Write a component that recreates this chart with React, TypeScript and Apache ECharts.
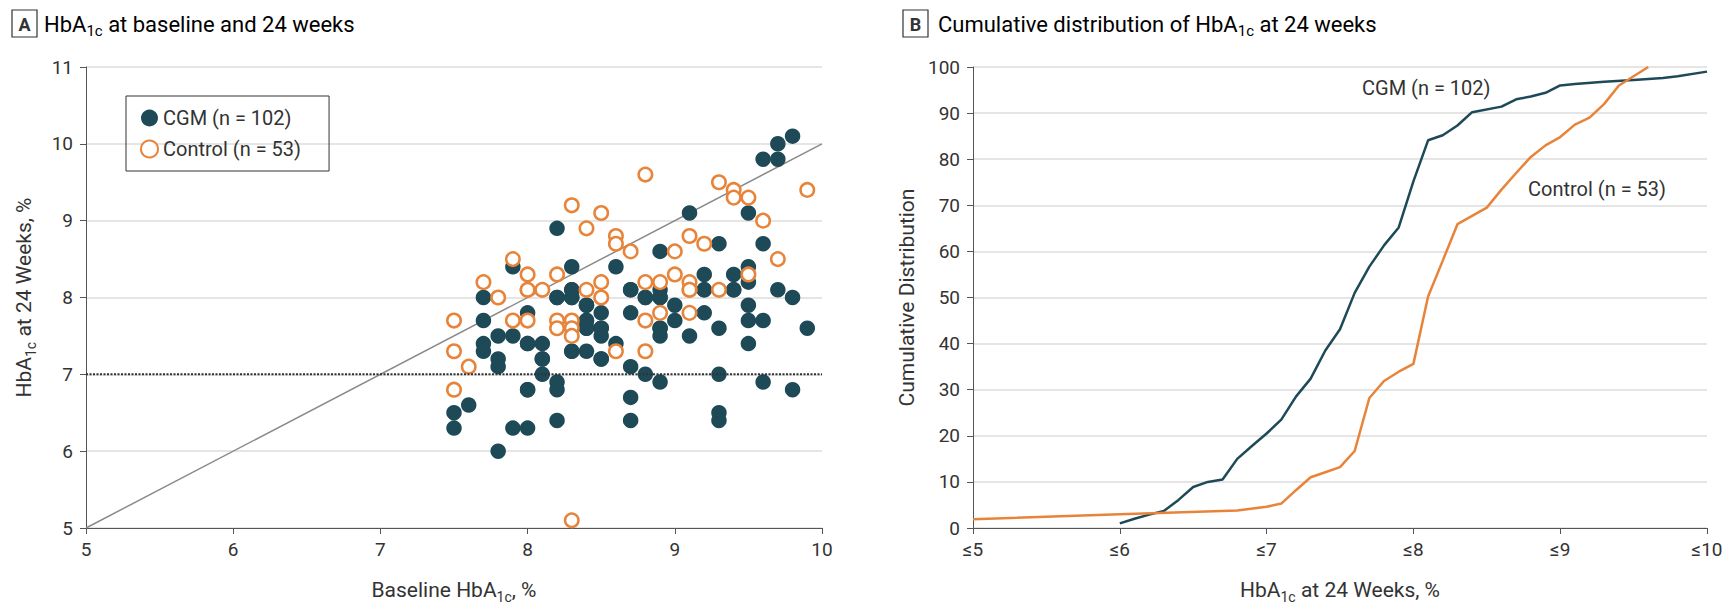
import React, { useEffect, useRef } from "react";
import * as echarts from "echarts";

const FONT = "Roboto, 'Liberation Sans', sans-serif";
const DARK = "#1e4957";
const ORANGE = "#e8843a";
const TEXT = "#333333";
const AXIS = "#555555";
const GRID = "#dddddd";

// Panel A: baseline HbA1c (x) vs HbA1c at 24 weeks (y)
const cgmPoints: [number, number][] = [
  [9.8, 10.1], [9.7, 10.0], [9.7, 9.8], [9.6, 9.8], [9.1, 9.1], [9.5, 9.1], [8.2, 8.9], [9.6, 8.7], [9.3, 8.7], [8.9, 8.6],
  [7.9, 8.4], [8.3, 8.4], [8.6, 8.4], [9.5, 8.4], [9.2, 8.3], [9.4, 8.3], [9.5, 8.2], [8.3, 8.1], [8.7, 8.1], [8.9, 8.1],
  [9.2, 8.1], [9.4, 8.1], [9.7, 8.1], [7.7, 8.0], [8.2, 8.0], [8.3, 8.0], [8.8, 8.0], [8.9, 8.0], [9.8, 8.0], [8.4, 7.9],
  [9.0, 7.9], [9.5, 7.9], [8.0, 7.8], [8.5, 7.8], [8.7, 7.8], [9.2, 7.8], [7.7, 7.7], [8.4, 7.7], [9.0, 7.7], [9.5, 7.7],
  [9.6, 7.7], [8.4, 7.6], [8.5, 7.6], [8.9, 7.6], [9.3, 7.6], [9.9, 7.6], [7.8, 7.5], [7.9, 7.5], [8.5, 7.5], [8.9, 7.5],
  [9.1, 7.5], [7.7, 7.4], [8.0, 7.4], [8.1, 7.4], [8.6, 7.4], [9.5, 7.4], [7.7, 7.3], [8.3, 7.3], [8.4, 7.3], [7.8, 7.2],
  [8.1, 7.2], [8.5, 7.2], [7.8, 7.1], [8.7, 7.1], [8.1, 7.0], [8.8, 7.0], [9.3, 7.0], [8.2, 6.9], [8.9, 6.9], [9.6, 6.9],
  [8.0, 6.8], [8.2, 6.8], [9.8, 6.8], [8.7, 6.7], [7.6, 6.6], [7.5, 6.5], [9.3, 6.5], [8.2, 6.4], [8.7, 6.4], [9.3, 6.4],
  [7.5, 6.3], [7.9, 6.3], [8.0, 6.3], [7.8, 6.0],
  [8.0, 6.8], [8.1, 7.2], [8.5, 7.2], [8.3, 7.3], [8.0, 7.4], [8.4, 7.6], [8.5, 7.6], [8.9, 7.6], [8.4, 7.7], [8.4, 7.9],
  [8.3, 8.0], [8.2, 8.0], [8.8, 8.0], [8.9, 8.0], [8.3, 8.1], [8.7, 8.1], [9.2, 8.1], [9.4, 8.1],
];

const controlPoints: [number, number][] = [
  [7.5, 7.7], [7.5, 7.3], [7.6, 7.1], [7.5, 6.8], [7.8, 8.0], [7.9, 7.7], [8.0, 7.7], [8.0, 8.1], [8.1, 8.1], [8.2, 7.7],
  [8.3, 7.7], [8.2, 7.6], [8.3, 7.6], [8.3, 7.5], [7.7, 8.2], [8.3, 9.2], [8.4, 8.9], [7.9, 8.5], [8.0, 8.3], [8.2, 8.3],
  [8.8, 9.6], [8.5, 9.1], [8.6, 8.8], [8.6, 8.7], [8.7, 8.6], [9.0, 8.6], [9.1, 8.8], [9.2, 8.7], [9.3, 9.5], [9.4, 9.4],
  [9.4, 9.3], [9.5, 9.3], [9.5, 8.3], [9.0, 8.3], [9.1, 8.2], [9.1, 8.1], [8.8, 8.2], [8.9, 8.2], [8.5, 8.2], [8.4, 8.1],
  [8.5, 8.0], [9.3, 8.1], [8.9, 7.8], [9.1, 7.8], [8.8, 7.7], [8.8, 7.3], [8.6, 7.3], [8.3, 5.1], [9.6, 9.0], [9.7, 8.5],
  [9.9, 9.4], [8.0, 8.1], [9.1, 8.1],
];

const identityLine: [number, number][] = [[5, 5], [10, 10]];
const targetLine: [number, number][] = [[5, 7], [10, 7]];

// Panel B: cumulative distribution of HbA1c at 24 weeks
const cgmCdfX = [6.0, 6.1, 6.2, 6.3, 6.4, 6.5, 6.6, 6.7, 6.8, 6.9, 7.0, 7.1, 7.2, 7.3, 7.4, 7.5, 7.6, 7.7, 7.8, 7.9, 8.0, 8.1, 8.2, 8.3, 8.4, 8.6, 8.7, 8.8, 8.9, 9.0, 9.1, 9.3, 9.5, 9.7, 9.8, 10.0];
const cgmCdfY = [1.0, 2.0, 2.9, 3.7, 6.1, 8.9, 10.0, 10.5, 15.0, 17.8, 20.5, 23.5, 28.5, 32.4, 38.5, 43.1, 51.0, 56.7, 61.3, 65.2, 75.2, 84.1, 85.2, 87.3, 90.2, 91.4, 93.0, 93.6, 94.4, 96.0, 96.3, 96.8, 97.2, 97.6, 98.0, 99.0];
const controlCdfX = [5.0, 6.0, 6.8, 7.0, 7.1, 7.2, 7.3, 7.4, 7.5, 7.6, 7.7, 7.8, 7.9, 8.0, 8.1, 8.2, 8.3, 8.4, 8.5, 8.6, 8.7, 8.8, 8.9, 9.0, 9.1, 9.2, 9.3, 9.4, 9.5, 9.6];
const controlCdfY = [1.9, 3.0, 3.8, 4.6, 5.3, 8.2, 11.0, 12.1, 13.2, 16.7, 28.2, 31.9, 33.9, 35.6, 50.2, 58.0, 65.9, 67.7, 69.5, 73.4, 77.0, 80.5, 83.0, 84.8, 87.5, 89.0, 92.0, 96.0, 98.0, 100.0];

const panelBTickLabels = ["≤5", "≤6", "≤7", "≤8", "≤9", "≤10"];

const nameRich = {
  n: { fontFamily: FONT, fontSize: 21, color: TEXT, lineHeight: 28 },
  s: { fontFamily: FONT, fontSize: 14, color: TEXT, lineHeight: 28, verticalAlign: "bottom" as const },
};
const titleRich = {
  n: { fontFamily: FONT, fontSize: 22, color: TEXT, lineHeight: 29 },
  s: { fontFamily: FONT, fontSize: 15, color: TEXT, lineHeight: 29, verticalAlign: "bottom" as const },
};

export default function App() {
  const ref = useRef<HTMLDivElement>(null);
  useEffect(() => {
    const chart = echarts.init(ref.current!, undefined, { renderer: "svg" });
    const axisCommon = {
      axisLine: { show: true, lineStyle: { color: AXIS, width: 1 } },
      axisTick: { show: true, inside: false, length: 6, lineStyle: { color: AXIS } },
      axisLabel: { fontFamily: FONT, fontSize: 19, color: TEXT },
    };
    const option: any = {
      animation: false,
      backgroundColor: "#ffffff",
      grid: [
        { left: 86, top: 67, width: 736, height: 468 },
        { left: 973, top: 67, width: 734, height: 468 },
      ],
      legend: {
        data: ["CGM (n = 102)", "Control (n = 53)"],
        orient: "vertical",
        left: 126,
        top: 96,
        borderColor: "#333",
        borderWidth: 1,
        padding: [12, 28, 12, 14],
        itemGap: 11,
        itemWidth: 17,
        itemHeight: 17,
        textStyle: { fontFamily: FONT, fontSize: 20, color: TEXT },
      },
      xAxis: [
        {
          ...axisCommon,
          gridIndex: 0,
          type: "value",
          min: 5,
          max: 10,
          interval: 1,
          splitLine: { show: false },
          axisLabel: { ...axisCommon.axisLabel, margin: 12 },
          name: "{n|Baseline HbA}{s|1c}{n|, %}",
          nameLocation: "middle",
          nameGap: 48,
          nameTextStyle: { rich: nameRich },
        },
        {
          ...axisCommon,
          gridIndex: 1,
          type: "value",
          min: 5,
          max: 10,
          interval: 1,
          splitLine: { show: false },
          axisLabel: {
            ...axisCommon.axisLabel,
            margin: 12,
            formatter: (v: number) => panelBTickLabels[Math.round(v) - 5],
          },
          name: "{n|HbA}{s|1c}{n| at 24 Weeks, %}",
          nameLocation: "middle",
          nameGap: 48,
          nameTextStyle: { rich: nameRich },
        },
      ],
      yAxis: [
        {
          ...axisCommon,
          gridIndex: 0,
          type: "value",
          min: 5,
          max: 11,
          interval: 1,
          splitLine: { show: true, lineStyle: { color: GRID, width: 1.5 } },
          axisLabel: { ...axisCommon.axisLabel, margin: 13 },
          name: "{n|HbA}{s|1c}{n| at 24 Weeks, %}",
          nameLocation: "middle",
          nameRotate: 90,
          nameGap: 48,
          nameTextStyle: { rich: nameRich },
        },
        {
          ...axisCommon,
          gridIndex: 1,
          type: "value",
          min: 0,
          max: 100,
          interval: 10,
          splitLine: { show: true, lineStyle: { color: GRID, width: 1.5 } },
          axisLabel: { ...axisCommon.axisLabel, margin: 13 },
          name: "Cumulative Distribution",
          nameLocation: "middle",
          nameRotate: 90,
          nameGap: 56,
          nameTextStyle: { fontFamily: FONT, fontSize: 21, color: TEXT },
        },
      ],
      graphic: [
        { type: "rect", shape: { x: 12, y: 10, width: 25, height: 27 }, style: { fill: "#fff", stroke: "#333", lineWidth: 1.2 } },
        { type: "text", x: 24.5, y: 24, style: { text: "A", fontFamily: FONT, fontSize: 18, fontWeight: "bold", fill: "#333", align: "center", verticalAlign: "middle" } },
        { type: "text", x: 44, y: 24, style: { text: "{n|HbA}{s|1c}{n| at baseline and 24 weeks}", rich: titleRich, verticalAlign: "middle" } },
        { type: "rect", shape: { x: 903, y: 10, width: 25, height: 27 }, style: { fill: "#fff", stroke: "#333", lineWidth: 1.2 } },
        { type: "text", x: 915.5, y: 24, style: { text: "B", fontFamily: FONT, fontSize: 18, fontWeight: "bold", fill: "#333", align: "center", verticalAlign: "middle" } },
        { type: "text", x: 938, y: 24, style: { text: "{n|Cumulative distribution of HbA}{s|1c}{n| at 24 weeks}", rich: titleRich, verticalAlign: "middle" } },
        { type: "text", x: 1362, y: 88, style: { text: "CGM (n = 102)", fontFamily: FONT, fontSize: 20, fill: TEXT, verticalAlign: "middle" } },
        { type: "text", x: 1528, y: 189, style: { text: "Control (n = 53)", fontFamily: FONT, fontSize: 20, fill: TEXT, verticalAlign: "middle" } },
      ],
      series: [
        {
          name: "identity",
          type: "line",
          xAxisIndex: 0,
          yAxisIndex: 0,
          data: identityLine,
          showSymbol: false,
          silent: true,
          lineStyle: { color: "#8a8a8a", width: 1.5 },
          z: 1,
        },
        {
          name: "CGM (n = 102)",
          type: "scatter",
          xAxisIndex: 0,
          yAxisIndex: 0,
          data: cgmPoints,
          symbol: "circle",
          symbolSize: 15.5,
          itemStyle: { color: DARK, opacity: 1 },
          z: 3,
        },
        {
          name: "Control (n = 53)",
          type: "scatter",
          xAxisIndex: 0,
          yAxisIndex: 0,
          data: controlPoints,
          symbol: "circle",
          symbolSize: 13.5,
          itemStyle: { color: "#ffffff", borderColor: ORANGE, borderWidth: 2.5, opacity: 1 },
          z: 4,
        },
        {
          name: "target",
          type: "line",
          xAxisIndex: 0,
          yAxisIndex: 0,
          data: targetLine,
          showSymbol: false,
          silent: true,
          lineStyle: { color: "#333", width: 2, type: [2, 1.5] },
          z: 5,
        },
        {
          name: "CGM CDF",
          type: "line",
          xAxisIndex: 1,
          yAxisIndex: 1,
          data: cgmCdfX.map((x, i) => [x, cgmCdfY[i]]),
          showSymbol: false,
          lineStyle: { color: DARK, width: 2.5 },
          z: 3,
        },
        {
          name: "Control CDF",
          type: "line",
          xAxisIndex: 1,
          yAxisIndex: 1,
          data: controlCdfX.map((x, i) => [x, controlCdfY[i]]),
          showSymbol: false,
          lineStyle: { color: ORANGE, width: 2.5 },
          z: 3,
        },
      ],
    };
    chart.setOption(option);
    return () => chart.dispose();
  }, []);
  return (
    <div
      ref={ref}
      style={{ position: "absolute", left: 0, top: 0, width: 1735, height: 609, background: "#fff" }}
    />
  );
}
